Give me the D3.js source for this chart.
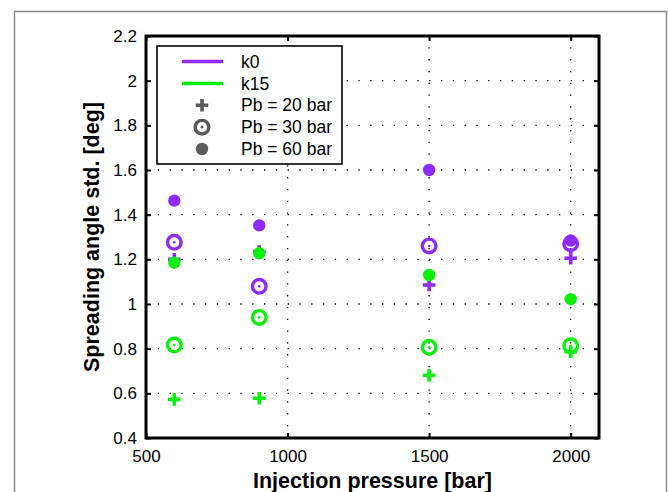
<!DOCTYPE html>
<html><head><meta charset="utf-8">
<script src="https://cdn.jsdelivr.net/npm/d3@7"></script>
<style>body{margin:0;background:#fff}svg text{font-family:"Liberation Sans",Arial,sans-serif;fill:#000}</style>
</head><body><svg id="c" width="668" height="492"></svg>
<script>
// ---- data ----
const pressures = [600, 900, 1500, 2000];
const k0_pb20  = [1.20, 1.235, 1.085, 1.205];
const k0_pb30  = [1.276, 1.079, 1.260, 1.270];
const k0_pb60  = [1.463, 1.352, 1.600, 1.284];
const k15_pb20 = [0.573, 0.578, 0.681, 0.786];
const k15_pb30 = [0.816, 0.940, 0.806, 0.813];
const k15_pb60 = [1.185, 1.227, 1.130, 1.022];
const xTicks = [500, 1000, 1500, 2000];
const yTicks = [0.4, 0.6, 0.8, 1, 1.2, 1.4, 1.6, 1.8, 2, 2.2];
const legendLines = ["k0", "k15"];
const legendMarkers = ["Pb = 20 bar", "Pb = 30 bar", "Pb = 60 bar"];
const xLabel = "Injection pressure [bar]";
const yLabel = "Spreading angle std. [deg]";

// ---- styles ----
const PURPLE = "#8f2bff", GREEN = "#0af00a", LEGGRAY = "#5a5a5a";
const m = {l:146, r:599, t:36, b:438};
const svg = d3.select("#c");

// outer frame
svg.append("rect").attr("x",14.5).attr("y",11.5).attr("width",652).attr("height",490)
  .attr("fill","none").attr("stroke","#8a8a8a").attr("stroke-width",1.5);

const x = d3.scaleLinear().domain([500,2100]).range([m.l,m.r]);
const y = d3.scaleLinear().domain([0.4,2.2]).range([m.b,m.t]);

// grid
const grid = svg.append("g").attr("stroke","#000").attr("stroke-width",1.3).attr("stroke-dasharray","1.3,10.5");
grid.selectAll(".gx").data(xTicks.filter(v=>v>500)).enter().append("line")
  .attr("x1",d=>x(d)).attr("x2",d=>x(d)).attr("y1",m.b).attr("y2",m.t);
grid.selectAll(".gy").data(yTicks.filter(v=>v>0.4 && v<2.2)).enter().append("line")
  .attr("x1",m.l).attr("x2",m.r).attr("y1",d=>y(d)).attr("y2",d=>y(d));

// axes with inward ticks on all sides
const fmtY = d => String(+d.toFixed(1));
const fmtX = d => String(d);
const ax = (g)=>{g.select(".domain").remove(); g.selectAll("line").attr("stroke","#000").attr("stroke-width",2);};
svg.append("g").attr("transform",`translate(0,${m.b})`)
  .call(d3.axisBottom(x).tickValues(xTicks).tickSize(-5).tickPadding(12).tickFormat(fmtX)).call(ax)
  .selectAll("text").attr("font-size",17).attr("dy","0.71em");
svg.append("g").attr("transform",`translate(0,${m.t})`)
  .call(d3.axisTop(x).tickValues(xTicks).tickSize(-5).tickFormat("")).call(ax);
svg.append("g").attr("transform",`translate(${m.l},0)`)
  .call(d3.axisLeft(y).tickValues(yTicks).tickSize(-5).tickPadding(9).tickFormat(fmtY)).call(ax)
  .selectAll("text").attr("font-size",17);
svg.append("g").attr("transform",`translate(${m.r},0)`)
  .call(d3.axisRight(y).tickValues(yTicks).tickSize(-5).tickFormat("")).call(ax);
svg.selectAll(".tick text").attr("fill","#1a1a1a").attr("font-family","'Liberation Sans',Arial,sans-serif");

// box
svg.append("rect").attr("x",m.l).attr("y",m.t).attr("width",m.r-m.l).attr("height",m.b-m.t)
  .attr("fill","none").attr("stroke","#000").attr("stroke-width",3);

// axis labels
svg.append("text").attr("x",(m.l+m.r)/2).attr("y",488).attr("text-anchor","middle")
  .attr("font-size",21.5).attr("font-weight","bold").attr("fill","#1a1a1a").text(xLabel);
svg.append("text").attr("transform",`translate(99,${(m.t+m.b)/2}) rotate(-90)`).attr("text-anchor","middle")
  .attr("font-size",21.5).attr("font-weight","bold").attr("fill","#1a1a1a").text(yLabel);

// markers
function plus(g, cx, cy, col){
  g.append("path").attr("d",`M${cx-6.3},${cy}H${cx+6.3}M${cx},${cy-6.3}V${cy+6.3}`)
    .attr("stroke",col).attr("stroke-width",3.6).attr("fill","none");
}
function ring(g, cx, cy, col){
  g.append("circle").attr("cx",cx).attr("cy",cy).attr("r",6.8).attr("fill","none").attr("stroke",col).attr("stroke-width",3.4);
  g.append("circle").attr("cx",cx).attr("cy",cy).attr("r",1.3).attr("fill",col);
}
function dot(g, cx, cy, col){
  g.append("circle").attr("cx",cx).attr("cy",cy).attr("r",6.2).attr("fill",col);
}
const pts = svg.append("g");
const series = [
  [k0_pb30, ring, PURPLE],[k0_pb20, plus, PURPLE],[k0_pb60, dot, PURPLE],
  [k15_pb30, ring, GREEN],[k15_pb20, plus, GREEN],[k15_pb60, dot, GREEN]
];
series.forEach(([vals, fn, col])=>{
  vals.forEach((v,i)=> fn(pts, x(pressures[i]), y(v), col));
});

// legend
const lg = svg.append("g");
lg.append("rect").attr("x",157).attr("y",46).attr("width",185).attr("height",118)
  .attr("fill","#fff").attr("stroke","#000").attr("stroke-width",1.6);
const rowY = d3.scaleLinear().domain([0,4]).range([61.5,149]);
[PURPLE, GREEN].forEach((c,i)=>{
  lg.append("line").attr("x1",182).attr("x2",223).attr("y1",rowY(i)).attr("y2",rowY(i))
    .attr("stroke",c).attr("stroke-width",3.5);
});
plus(lg, 202, rowY(2), LEGGRAY);
ring(lg, 202, rowY(3), LEGGRAY);
dot(lg, 202, rowY(4), LEGGRAY);
legendLines.concat(legendMarkers).forEach((t,i)=>{
  lg.append("text").attr("x",241).attr("y",rowY(i)).attr("dy","0.35em").attr("font-size",17.5).attr("fill","#1a1a1a").text(t);
});
</script></body></html>
